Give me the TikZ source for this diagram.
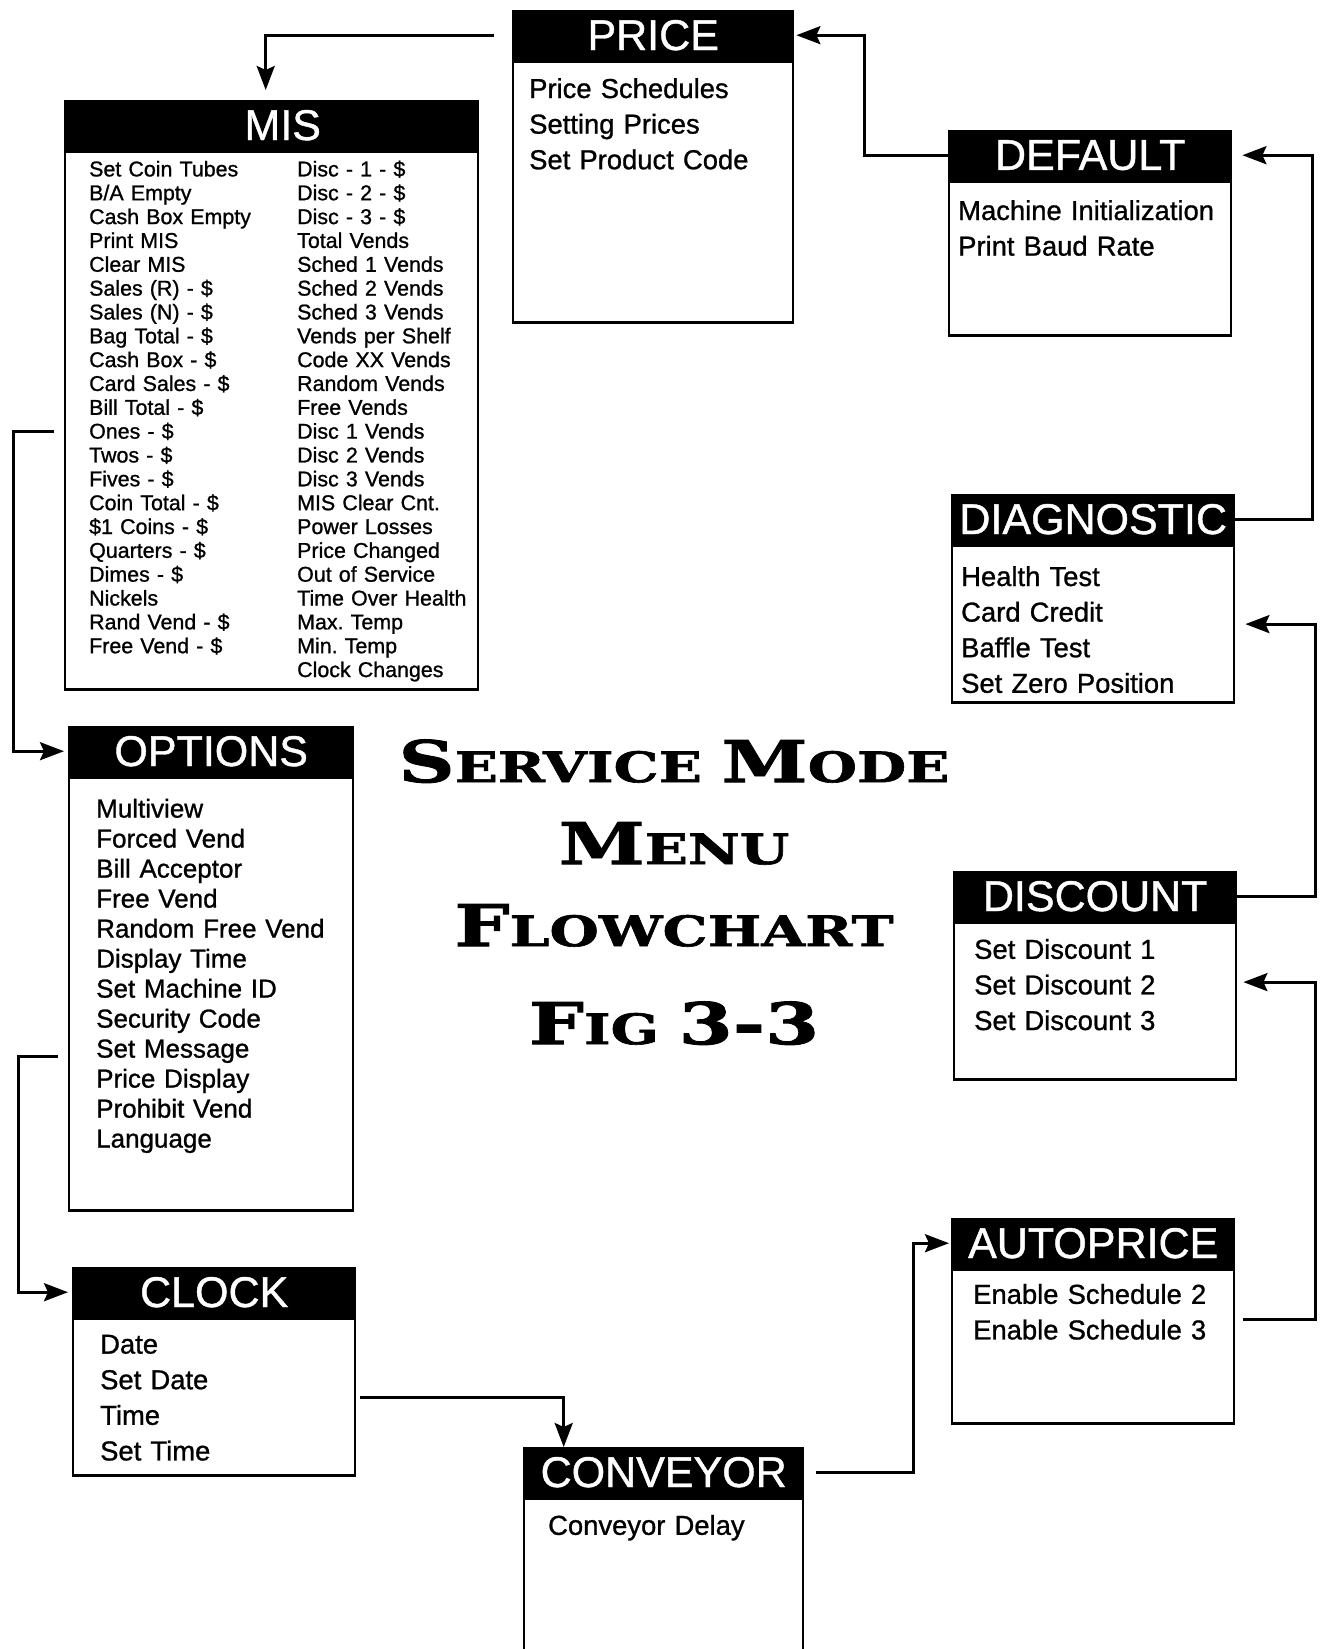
\documentclass[tikz,border=0pt]{standalone}
\usepackage{fontspec}
\setmainfont{Liberation Sans}[FakeBold=1]
\newfontfamily\fonteTitulo[FakeStretch=1.35,FakeBold=1.5]{DejaVu Serif}
\usepackage{tikz}
\usetikzlibrary{arrows.meta,positioning,calc}
\frenchspacing
\newcommand\fonteCab{\fontsize{21.5pt}{24pt}\selectfont}
\newcommand\fonteItem{\fontsize{13.7pt}{17.8pt}\selectfont}
\newcommand\fonteOpc{\fontsize{13pt}{15pt}\selectfont}
\newcommand\fonteMis{\fontsize{10.7pt}{11.92pt}\selectfont}
\newcommand\versalete[2]{{\fontsize{28.8pt}{41pt}\selectfont #1}{\fontsize{21pt}{41pt}\selectfont #2}}
\tikzset{
    cabecalho/.style={
        rectangle,
        fill=black,
        draw=black,
        line width=1.2pt,
        text=white,
        font=\fonteCab,
        anchor=north west,
        minimum height=24pt,
        inner sep=0pt
    },
    corpo/.style={
        rectangle,
        draw,
        line width=1.2pt,
        anchor=north,
        align=left,
        inner ysep=0pt,
        font=\fonteItem
    },
    titulo/.style={
        font=\fonteTitulo\bfseries\fontsize{21pt}{41pt}\selectfont,
        align=center,
        anchor=north,
        inner sep=0pt
    },
    fluxo/.style={-{Stealth[length=12pt,width=9pt,inset=2pt]}, line width=1.5pt}
}

\begin{document}
\begin{tikzpicture}[x=0.5pt, y=-0.5pt, node distance=0pt]
    \useasboundingbox (0,0) rectangle (1319,1649);

    % caixas do menu
    \node[cabecalho, minimum width=140pt] (priceH) at (512,10) {PRICE};
    \node[corpo, below=of priceH, inner xsep=8pt, text width=124pt,
        text height=18.2pt, text depth=112.3pt] (price)
        {Price Schedules\\Setting Prices\\Set Product Code};

    \node[cabecalho, minimum width=206.5pt] (misH) at (64,100) {\hspace*{11pt}MIS};
    \node[corpo, below=of misH, inner xsep=12pt, text width=182.5pt,
        text height=12.4pt, text depth=256.6pt, font=\fonteMis] (mis)
        {\begin{tabular}[t]{@{}p{104pt}@{}l@{}}
        Set Coin Tubes & Disc - 1 - \$\\
        B/A Empty & Disc - 2 - \$\\
        Cash Box Empty & Disc - 3 - \$\\
        Print MIS & Total Vends\\
        Clear MIS & Sched 1 Vends\\
        Sales (R) - \$ & Sched 2 Vends\\
        Sales (N) - \$ & Sched 3 Vends\\
        Bag Total - \$ & Vends per Shelf\\
        Cash Box - \$ & Code XX Vends\\
        Card Sales - \$ & Random Vends\\
        Bill Total - \$ & Free Vends\\
        Ones - \$ & Disc 1 Vends\\
        Twos - \$ & Disc 2 Vends\\
        Fives - \$ & Disc 3 Vends\\
        Coin Total - \$ & MIS Clear Cnt.\\
        \$1 Coins - \$ & Power Losses\\
        Quarters - \$ & Price Changed\\
        Dimes - \$ & Out of Service\\
        Nickels & Time Over Health\\
        Rand Vend - \$ & Max. Temp\\
        Free Vend - \$ & Min. Temp\\
         & Clock Changes
        \end{tabular}};

    \node[cabecalho, minimum width=141pt] (defH) at (948,130) {DEFAULT};
    \node[corpo, below=of defH, inner xsep=4.5pt, text width=132pt,
        text height=19.2pt, text depth=57.8pt] (def)
        {Machine Initialization\\Print Baud Rate};

    \node[cabecalho, minimum width=141pt] (diagH) at (951,494) {DIAGNOSTIC};
    \node[corpo, below=of diagH, inner xsep=4.5pt, text width=132pt,
        text height=20.2pt, text depth=58.3pt] (diag)
        {Health Test\\Card Credit\\Baffle Test\\Set Zero Position};

    \node[cabecalho, minimum width=141pt] (discH) at (953,871) {DISCOUNT};
    \node[corpo, below=of discH, inner xsep=10pt, text width=121pt,
        text height=18.1pt, text depth=60.4pt] (disc)
        {Set Discount 1\\Set Discount 2\\Set Discount 3};

    \node[cabecalho, minimum width=141pt] (autoH) at (951,1218) {AUTOPRICE};
    \node[corpo, below=of autoH, inner xsep=10.5pt, text width=120pt,
        text height=17.1pt, text depth=59.9pt] (auto)
        {Enable Schedule 2\\Enable Schedule 3};

    \node[cabecalho, minimum width=139.5pt] (convH) at (523,1447) {CONVEYOR};
    \node[corpo, below=of convH, inner xsep=12pt, text width=115.5pt,
        text height=18.1pt, text depth=64.4pt] (conv)
        {Conveyor Delay};

    \node[cabecalho, minimum width=141pt] (clockH) at (72,1267) {CLOCK};
    \node[corpo, below=of clockH, inner xsep=13.5pt, text width=114pt,
        text height=17.5pt, text depth=61pt] (clock)
        {Date\\Set Date\\Time\\Set Time};

    \node[cabecalho, minimum width=142pt] (optH) at (68,726) {OPTIONS};
    \node[corpo, below=of optH, inner xsep=13.5pt, text width=115pt,
        text height=20pt, text depth=196.5pt, font=\fonteOpc] (opt)
        {Multiview\\Forced Vend\\Bill Acceptor\\Free Vend\\Random Free Vend\\
        Display Time\\Set Machine ID\\Security Code\\Set Message\\
        Price Display\\Prohibit Vend\\Language};

    % titulo
    \node[titulo] (tit) at (674,739)
        {\versalete{S}{ERVICE} \versalete{M}{ODE}\\
        \versalete{M}{ENU}\\
        \versalete{F}{LOWCHART}\\[8pt]
        \versalete{F}{IG} \versalete{3-3}{}};

    % ligacoes
    \draw[fluxo, shorten <=9pt, shorten >=5pt] (priceH.west) -| ($(misH.north)+(-6,0)$);
    \draw[fluxo, shorten >=1pt] (defH.west) -- ++(-84,0) |- (priceH.east);
    \draw[fluxo, shorten >=5pt] (diagH.east) -- ++(77,0) |- (defH.east);
    \draw[fluxo, shorten >=5pt] (discH.east) -- ++(78,0) |- (diag.east);
    \draw[fluxo, shorten <=4pt, shorten >=3pt] ($(auto.east)+(0,-27)$) -- ++(80,0)
        |- ($(disc.east)+(0,-19)$);
    \draw[fluxo, shorten <=6pt, shorten >=1pt] (convH.east) -- ++(109,0) |- (autoH.west);
    \draw[fluxo, shorten <=2pt] (clock.east) -| ($(convH.north)+(-100,0)$);
    \draw[fluxo, shorten <=5pt, shorten >=2pt] ($(opt.west)+(0,62)$) -- ++(-50,0)
        |- (clockH.west);
    \draw[fluxo, shorten <=5pt, shorten >=2pt] ($(mis.west)+(0,11)$) -- ++(-51,0)
        |- (optH.west);
\end{tikzpicture}
\end{document}
